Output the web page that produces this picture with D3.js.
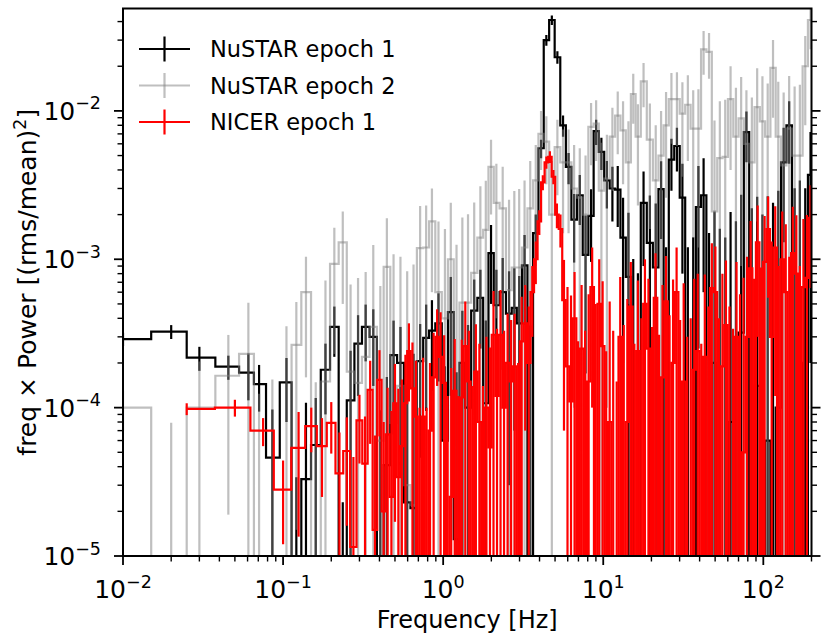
<!DOCTYPE html>
<html>
<head>
<meta charset="utf-8">
<script src="https://cdn.jsdelivr.net/npm/d3@7/dist/d3.min.js"></script>
<style>
  body { margin: 0; background: #fff; }
  text { font-family: "DejaVu Sans", sans-serif; }
</style>
</head>
<body>
<div id="chart"></div>
<script>
// freq x Power spectra (log-log), drawn as steps-mid lines with vertical error bars

// frequency bins shared by both NuSTAR epochs [Hz]
const nustarFreq = [
  0.01, 0.02, 0.03, 0.0455, 0.0607, 0.0708, 0.0857, 0.105, 0.121, 0.139,
  0.160, 0.184, 0.209, 0.236, 0.264, 0.294, 0.328, 0.366, 0.405, 0.445,
  0.490, 0.541, 0.596, 0.653, 0.718, 0.783, 0.851, 0.935, 1.026, 1.116,
  1.212, 1.318, 1.430, 1.563, 1.708, 1.847, 1.991, 2.150, 2.355, 2.580,
  2.783, 2.985, 3.225, 3.499, 3.789, 4.088, 4.411, 4.775, 5.171, 5.610,
  6.074, 6.577, 7.137, 7.754, 8.395, 9.028, 9.739, 10.54, 11.41, 12.32,
  13.30, 14.37, 15.40, 16.47, 17.86, 19.56, 21.28, 22.98, 24.69, 26.67,
  28.87, 31.23, 33.78, 36.48, 39.32, 42.36, 45.81, 49.55, 53.52, 57.81,
  62.44, 67.45, 72.70, 78.43, 84.82, 91.53, 98.74, 106.5, 115.0, 124.0,
  134.0, 145.0, 156.9, 169.2, 182.8, 197.2
];

// NuSTAR epoch 1
const nustar1Power = [
  2.9e-4, 3.25e-4, 2.17e-4, 1.89e-4, 1.72e-4, 1.44e-4, 4.6e-5, 1.48e-4, 4e-6, 3.3e-5,
  5.6e-5, 1.8e-4, 3.5e-4, 3e-6, 1.12e-4, 2.7e-4, 3.5e-4, 3.0e-4, 6e-6, 4.1e-5,
  2.26e-4, 2.0e-4, 2.3e-5, 2.1e-5, 2.06e-4, 2.95e-4, 3.3e-4, 3.7e-4, 6e-5, 4.4e-4,
  1.3e-5, 2.0e-4, 1.0e-4, 4.5e-4, 5.5e-4, 1.07e-4, 1.1e-3, 4.9e-4, 6.0e-4, 4.3e-4,
  4.7e-4, 3.7e-4, 9.1e-4, 8e-6, 1.5e-3, 5.6e-3, 3.0e-2, 4.1e-2, 2.3e-2, 8.0e-3,
  4.2e-3, 1.85e-3, 2.7e-3, 1.07e-3, 1.96e-3, 7.3e-3, 5.3e-3, 3.4e-3, 3.0e-3, 2.95e-3,
  1.4e-3, 7.6e-4, 5e-6, 4e-6, 2.4e-3, 1.29e-3, 8.8e-4, 2.97e-3, 5e-6, 4.7e-3,
  5.8e-3, 2.6e-3, 5e-6, 6e-6, 2.25e-3, 2.7e-3, 4e-6, 2.0e-4, 5e-6, 3e-6,
  8e-5, 5e-6, 3.2e-4, 7.2e-3, 5e-6, 1.4e-4, 4e-6, 6e-5, 5e-6, 1.0e-4,
  4.5e-3, 8.0e-3, 5e-6, 2.0e-4, 5e-6, 3.7e-3
];
const nustar1Err = [
  3e-5, 3.5e-5, 4e-5, 3.5e-5, 6e-5, 5e-5, 5.1e-5, 6.8e-5, 3e-5, 7.5e-5,
  6e-5, 9e-5, 1.3e-4, 2e-5, 1.3e-4, 1.5e-4, 1.45e-4, 1.6e-4, 9e-5, 1.2e-4,
  1.6e-4, 1.5e-4, 1.2e-4, 2.1e-4, 1.6e-4, 2.0e-4, 2.0e-4, 2.2e-4, 1.3e-4, 3.2e-4,
  1.6e-4, 2.5e-4, 2.6e-4, 2.8e-4, 3.0e-4, 2.8e-4, 6.0e-4, 3.6e-4, 4.2e-4, 4.0e-4,
  4.0e-4, 4.0e-4, 5.5e-4, 3.5e-4, 5e-4, 8e-4, 2.5e-3, 3e-3, 2.2e-3, 1.3e-3,
  1.0e-3, 9e-4, 1.0e-3, 9e-4, 1.0e-3, 1.4e-3, 1.3e-3, 1.2e-3, 1.2e-3, 1.3e-3,
  1.2e-3, 1.3e-3, 1.0e-3, 8e-4, 1.5e-3, 1.4e-3, 1.5e-3, 1.6e-3, 1.2e-3, 1.8e-3,
  1.9e-3, 1.8e-3, 1.2e-3, 1.4e-3, 2.0e-3, 2.1e-3, 1.5e-3, 1.9e-3, 1.6e-3, 1.4e-3,
  2.0e-3, 1.8e-3, 2.4e-3, 2.7e-3, 2.2e-3, 2.5e-3, 2.0e-3, 2.6e-3, 2.4e-3, 2.8e-3,
  3.2e-3, 3.6e-3, 3.0e-3, 3.2e-3, 3.0e-3, 3.5e-3
];

// NuSTAR epoch 2
const nustar2Power = [
  1.0e-4, 3e-6, 1.0e-4, 1.64e-4, 2.3e-4, 4e-6, 5e-6, 4e-6, 2.65e-4, 6.0e-4,
  8e-6, 1.5e-4, 9.3e-4, 1.3e-3, 1.75e-4, 1.47e-4, 2.2e-4, 3.5e-4, 6e-5, 8.9e-4,
  7.9e-5, 1.4e-4, 3e-5, 2.2e-5, 1.19e-3, 1.2e-3, 1.8e-3, 6e-4, 4e-4, 1.0e-3,
  5.4e-5, 5.1e-4, 5.1e-4, 8.1e-4, 1.4e-3, 1.58e-3, 4.2e-3, 2.4e-3, 2.2e-3, 6.2e-4,
  8.8e-4, 8.8e-4, 1.2e-3, 2.2e-3, 3.4e-3, 7.0e-3, 6.2e-3, 2.0e-3, 5.7e-3, 4.5e-3,
  4.5e-3, 3.0e-3, 2.6e-3, 2.0e-3, 7.8e-3, 8.2e-3, 2.9e-3, 3.5e-3, 6.7e-3, 9.3e-3,
  7.4e-3, 4.5e-3, 1.3e-2, 6.7e-3, 1.58e-2, 6.4e-3, 3.4e-3, 5.0e-3, 8.0e-3, 1.2e-2,
  1.2e-2, 9.6e-3, 1.1e-2, 7.6e-3, 7.6e-3, 2.6e-2, 2.5e-2, 2.1e-3, 4.8e-3, 4.9e-3,
  1.2e-2, 6.7e-3, 8.9e-3, 6.0e-3, 4.5e-3, 1.06e-2, 8.5e-3, 6.7e-3, 1.95e-2, 6.7e-3,
  4.3e-3, 7.6e-3, 5.0e-3, 5.0e-3, 2.0e-2, 4.1e-2
];
const nustar2Err = [
  3e-5, 7.6e-5, 1.05e-4, 1.45e-4, 2.8e-4, 1.2e-4, 1.5e-4, 3.5e-4, 2.5e-4, 4.4e-4,
  1.4e-4, 5.7e-4, 7e-4, 8e-4, 5e-4, 6e-4, 6e-4, 9e-4, 6e-4, 1.0e-3,
  1.0e-3, 9e-4, 8e-4, 9e-4, 1.1e-3, 1.1e-3, 1.2e-3, 1.2e-3, 1.2e-3, 1.4e-3,
  1.2e-3, 1.4e-3, 1.5e-3, 1.6e-3, 1.7e-3, 1.8e-3, 2.2e-3, 2.0e-3, 2.0e-3, 1.9e-3,
  2.0e-3, 2.1e-3, 2.2e-3, 2.4e-3, 2.5e-3, 3.0e-3, 3.0e-3, 2.6e-3, 3.0e-3, 3.0e-3,
  3.0e-3, 2.9e-3, 3.0e-3, 3.0e-3, 3.5e-3, 3.6e-3, 3.2e-3, 3.4e-3, 3.8e-3, 4.2e-3,
  4.2e-3, 4.0e-3, 4.8e-3, 4.4e-3, 5.2e-3, 4.8e-3, 4.6e-3, 5.0e-3, 5.4e-3, 6.0e-3,
  6.2e-3, 6.0e-3, 6.4e-3, 6.2e-3, 6.4e-3, 8.5e-3, 8.5e-3, 6.5e-3, 6.8e-3, 7.0e-3,
  8.0e-3, 7.6e-3, 8.0e-3, 7.8e-3, 7.8e-3, 8.8e-3, 8.6e-3, 8.6e-3, 1.05e-2, 9.0e-3,
  9.0e-3, 9.6e-3, 9.6e-3, 1.0e-2, 1.2e-2, 1.5e-2
];

// NICER epoch 1 (negative values fall below the log axis)
const nicerFreq = [
  0.025, 0.05, 0.075, 0.1, 0.125, 0.15, 0.175, 0.2, 0.225, 0.25,
  0.275, 0.3, 0.325, 0.35, 0.375, 0.4, 0.425, 0.45, 0.475, 0.5,
  0.525, 0.552, 0.581, 0.611, 0.643, 0.676, 0.712, 0.749, 0.788, 0.828,
  0.872, 0.917, 0.964, 1.014, 1.067, 1.123, 1.181, 1.242, 1.307, 1.375,
  1.447, 1.522, 1.601, 1.684, 1.772, 1.864, 1.961, 2.063, 2.170, 2.283,
  2.401, 2.526, 2.658, 2.796, 2.941, 3.094, 3.255, 3.424, 3.603, 3.790,
  3.987, 4.194, 4.412, 4.642, 4.883, 5.137, 5.404, 5.685, 5.981, 6.292,
  6.619, 6.963, 7.325, 7.706, 8.107, 8.529, 8.972, 9.439, 9.913, 10.43,
  10.97, 11.54, 12.14, 12.77, 13.44, 14.14, 14.87, 15.65, 16.46, 17.31,
  18.22, 19.16, 20.16, 21.21, 22.31, 23.46, 24.68, 25.96, 27.31, 28.73,
  30.23, 31.80, 33.45, 35.19, 37.02, 38.95, 40.97, 43.10, 45.34, 47.70,
  50.18, 52.78, 55.53, 58.41, 61.45, 64.65, 68.01, 71.55, 75.27, 79.18,
  83.30, 87.63, 92.19, 96.87, 101.9, 107.2, 112.8, 118.7, 124.8, 131.3,
  138.1, 145.3, 152.9, 160.8, 169.2, 178.0, 187.2, 197.0
];
const nicerPower = [
  9.8e-5, 1.0e-4, 7.0e-5, 2.8e-5, 5.35e-5, 7.5e-5, 5.5e-5, 7.9e-5, 3.6e-5, 5.1e-5,
  1.15e-5, 8.2e-5, 4.2e-5, 1.32e-4, 1.5e-5, 1.54e-4, 2.0e-5, 6.6e-5, 2.5e-5, 1.07e-4,
  3.4e-5, 5.5e-5, 1.07e-4, 2.4e-4, 1.35e-4, 8.7e-5, -2.0e-5, 8.7e-5, -3.0e-5, 7.0e-5,
  1.6e-4, 3.0e-4, 2.2e-4, 1.47e-4, -4.0e-5, 2.5e-5, 1.3e-4, -5.0e-5, 1.17e-4, 2.6e-4,
  1.5e-4, -4.0e-5, 1.75e-4, 8.0e-5, -6.0e-5, 1.0e-4, 5.4e-5, 3.1e-4, 1.2e-4, 3.1e-4,
  1.0e-4, 2.0e-4, 1.5e-4, 1.9e-4, -5.0e-5, 2.8e-4, 3.7e-4, 2.0e-4, 6.0e-4, 1.0e-3,
  1.8e-3, 3.3e-3, 4.5e-3, 4.9e-3, 3.6e-3, 2.0e-3, 1.6e-3, 5.3e-4, 1.9e-4, 1.1e-4,
  4.0e-4, -1.5e-4, 2.5e-4, -1.0e-4, 1.5e-4, 6.5e-4, -5.0e-5, 5.0e-4, 2.6e-4, -2.0e-4,
  8.0e-5, -1.2e-4, -3.0e-4, 3.0e-4, -1.0e-4, 8.0e-5, 4.8e-4, -2.0e-4, 2.4e-4, -8.0e-5,
  5.0e-4, 2.5e-4, -1.5e-4, 5.5e-4, -2.0e-4, 1.6e-4, 5.2e-4, -1.0e-4, 2.0e-4, 6.0e-4,
  -1.5e-4, 1.5e-4, -2.5e-4, -1.5e-4, 1.8e-4, 2.4e-4, -3.0e-4, 2.2e-4, -1.0e-4, 6.4e-4,
  6.0e-4, -2.0e-4, 1.9e-4, 3.6e-4, -1.5e-4, -3.0e-4, 3.0e-4, -1.0e-4, 5.0e-5, 3.0e-4,
  8.7e-4, -2.0e-4, 1.3e-3, -1.0e-4, 9.6e-4, 1.6e-3, 3.0e-4, 1.2e-3, -2.0e-4, 1.0e-3,
  6.0e-4, -1.0e-4, 1.1e-3, 8.0e-4, -3.0e-4, 6.5e-4, 7.5e-4, 1.9e-3
];
const nicerErr = [
  9e-6, 1.3e-5, 1.5e-5, 1.6e-5, 4e-5, 2.5e-5, 3e-5, 3e-5, 3.2e-5, 3.5e-5,
  3.5e-5, 4e-5, 4.5e-5, 7.5e-5, 5e-5, 9e-5, 6e-5, 7e-5, 7e-5, 9e-5,
  1.0e-4, 1.0e-4, 1.2e-4, 1.3e-4, 1.4e-4, 1.2e-4, 1.2e-4, 1.3e-4, 1.3e-4, 1.3e-4,
  1.6e-4, 1.6e-4, 2.2e-4, 1.6e-4, 1.6e-4, 1.6e-4, 1.6e-4, 1.7e-4, 1.7e-4, 2.6e-4,
  1.8e-4, 1.8e-4, 1.9e-4, 1.9e-4, 2.0e-4, 2.0e-4, 2.0e-4, 3.0e-4, 2.2e-4, 3.1e-4,
  2.3e-4, 2.3e-4, 2.4e-4, 2.4e-4, 2.5e-4, 2.8e-4, 3.0e-4, 2.8e-4, 3.0e-4, 3.2e-4,
  3.4e-4, 3.8e-4, 4.2e-4, 4.4e-4, 4.0e-4, 3.8e-4, 4.0e-4, 4.6e-4, 4.6e-4, 4.6e-4,
  4.2e-4, 4.3e-4, 4.2e-4, 4.3e-4, 4.3e-4, 5.5e-4, 5.5e-4, 5.0e-4, 4.5e-4, 4.4e-4,
  4.4e-4, 4.5e-4, 4.5e-4, 4.6e-4, 4.6e-4, 4.6e-4, 4.8e-4, 4.7e-4, 4.8e-4, 4.8e-4,
  5.0e-4, 4.9e-4, 5.0e-4, 5.5e-4, 5.1e-4, 5.1e-4, 5.3e-4, 5.2e-4, 5.3e-4, 6.0e-4,
  5.4e-4, 5.4e-4, 5.5e-4, 5.5e-4, 5.6e-4, 5.6e-4, 5.7e-4, 5.7e-4, 5.8e-4, 6.4e-4,
  6.2e-4, 6.0e-4, 6.1e-4, 6.2e-4, 6.3e-4, 6.4e-4, 6.6e-4, 6.8e-4, 7.0e-4, 7.4e-4,
  9.4e-4, 9.4e-4, 1.0e-3, 9.8e-4, 1.0e-3, 1.05e-3, 1.02e-3, 1.08e-3, 1.1e-3, 1.1e-3,
  1.12e-3, 1.14e-3, 1.16e-3, 1.18e-3, 1.2e-3, 1.22e-3, 1.24e-3, 1.26e-3
];

const seriesNames = ['NuSTAR epoch 1', 'NuSTAR epoch 2', 'NICER epoch 1'];
const xMajorTicks = [1e-2, 1e-1, 1, 10, 100];
const xTickExps = ['\u22122', '\u22121', '0', '1', '2'];
const yMajorTicks = [1e-5, 1e-4, 1e-3, 1e-2];
const yTickExps = ['\u22125', '\u22124', '\u22123', '\u22122'];

const width = 831;
const height = 641;
const plot = { left: 123, right: 811.5, top: 8.5, bottom: 556 };
const tickFont = 25;
const labelFont = 25;
const legendFont = 22.5;
const lw = 2.2;

const x = d3.scaleLog().domain([0.01, 200]).range([plot.left, plot.right]);
const y = d3.scaleLog().domain([1e-5, 0.049]).range([plot.bottom, plot.top]);

const svg = d3.select('#chart')
  .append('svg')
  .attr('width', width)
  .attr('height', height)
  .style('display', 'block');

svg.append('rect').attr('width', width).attr('height', height).attr('fill', '#fff');

svg.append('defs').append('clipPath')
  .attr('id', 'plot-clip')
  .append('rect')
  .attr('x', plot.left)
  .attr('y', plot.top)
  .attr('width', plot.right - plot.left)
  .attr('height', plot.bottom - plot.top);

const series = [
  { name: seriesNames[0], freq: nustarFreq, power: nustar1Power, err: nustar1Err, color: '#000000', alpha: 1 },
  { name: seriesNames[1], freq: nustarFreq, power: nustar2Power, err: nustar2Err, color: '#808080', alpha: 0.5 },
  { name: seriesNames[2], freq: nicerFreq, power: nicerPower, err: nicerErr, color: '#ff0000', alpha: 1 }
];

// values at or below zero go off the bottom of the log axis
const FLOOR = 1e-9;
const py = v => y(Math.max(v, FLOOR));

// matplotlib-style steps-mid: jumps halfway between bins (in data units)
function stepPath(freq, power) {
  let d = `M${x(freq[0])},${py(power[0])}`;
  for (let i = 1; i < freq.length; i++) {
    const mid = x((freq[i - 1] + freq[i]) / 2);
    d += `H${mid}V${py(power[i])}`;
  }
  d += `H${x(freq[freq.length - 1])}`;
  return d;
}

const dataLayer = svg.append('g').attr('clip-path', 'url(#plot-clip)');

series.forEach(s => {
  const g = dataLayer.append('g');
  g.selectAll('line')
    .data(d3.range(s.freq.length))
    .join('line')
    .attr('x1', i => x(s.freq[i]))
    .attr('x2', i => x(s.freq[i]))
    .attr('y1', i => py(s.power[i] - s.err[i]))
    .attr('y2', i => py(s.power[i] + s.err[i]))
    .attr('stroke', s.color)
    .attr('stroke-opacity', s.alpha)
    .attr('stroke-width', lw);
  g.append('path')
    .attr('d', stepPath(s.freq, s.power))
    .attr('fill', 'none')
    .attr('stroke', s.color)
    .attr('stroke-opacity', s.alpha)
    .attr('stroke-width', lw)
    .attr('stroke-linejoin', 'miter');
});

// minor tick positions: 2..9 times each decade inside the domain
function minorTicks(domain) {
  const out = [];
  const lo = Math.floor(Math.log10(domain[0]));
  const hi = Math.ceil(Math.log10(domain[1]));
  for (let e = lo; e <= hi; e++) {
    for (let m = 2; m <= 9; m++) {
      const v = m * Math.pow(10, e);
      if (v >= domain[0] * 0.999 && v <= domain[1] * 1.001) out.push(v);
    }
  }
  return out;
}

const axes = svg.append('g');

function drawTicks(values, len, w, orient) {
  values.forEach(v => {
    const l = axes.append('line').attr('stroke', '#000').attr('stroke-width', w);
    if (orient === 'bottom') {
      l.attr('x1', x(v)).attr('x2', x(v)).attr('y1', plot.bottom).attr('y2', plot.bottom + len);
    } else if (orient === 'left') {
      l.attr('x1', plot.left).attr('x2', plot.left - len).attr('y1', y(v)).attr('y2', y(v));
    } else {
      l.attr('x1', plot.right).attr('x2', plot.right + len).attr('y1', y(v)).attr('y2', y(v));
    }
  });
}

drawTicks(xMajorTicks, 9, 1.8, 'bottom');
drawTicks(minorTicks(x.domain()), 5.5, 1.4, 'bottom');
['left', 'right'].forEach(side => {
  drawTicks(yMajorTicks, 9, 1.8, side);
  drawTicks(minorTicks(y.domain()), 5.5, 1.4, side);
});

// spines
axes.append('rect')
  .attr('x', plot.left)
  .attr('y', plot.top)
  .attr('width', plot.right - plot.left)
  .attr('height', plot.bottom - plot.top)
  .attr('fill', 'none')
  .attr('stroke', '#000')
  .attr('stroke-width', 2);

function powerLabel(sel, exp) {
  sel.append('tspan').text('10');
  sel.append('tspan')
    .attr('dy', -tickFont * 0.42)
    .attr('font-size', tickFont * 0.7)
    .text(exp);
}

xMajorTicks.forEach((v, i) => {
  const t = axes.append('text')
    .attr('x', x(v))
    .attr('y', 598)
    .attr('text-anchor', 'middle')
    .attr('font-size', tickFont)
    .attr('fill', '#000');
  powerLabel(t, xTickExps[i]);
});

yMajorTicks.forEach((v, i) => {
  const t = axes.append('text')
    .attr('x', 101)
    .attr('y', y(v) + 9)
    .attr('text-anchor', 'end')
    .attr('font-size', tickFont)
    .attr('fill', '#000');
  powerLabel(t, yTickExps[i]);
});

// axis titles
axes.append('text')
  .attr('x', (plot.left + plot.right) / 2)
  .attr('y', 628)
  .attr('text-anchor', 'middle')
  .attr('font-size', 24)
  .attr('fill', '#000')
  .text('Frequency [Hz]');

const yTitle = axes.append('text')
  .attr('transform', `translate(36,${(plot.top + plot.bottom) / 2}) rotate(-90)`)
  .attr('text-anchor', 'middle')
  .attr('font-size', labelFont)
  .attr('fill', '#000');
yTitle.append('tspan').text('freq \u00d7 Power [(rms/mean)');
yTitle.append('tspan').attr('dy', -labelFont * 0.42).attr('font-size', labelFont * 0.7).text('2');
yTitle.append('tspan').attr('dy', labelFont * 0.42).text(']');

// legend
const legend = svg.append('g');
series.forEach((s, i) => {
  const ly = 49 + i * 36.5;
  legend.append('line')
    .attr('x1', 139).attr('x2', 190)
    .attr('y1', ly).attr('y2', ly)
    .attr('stroke', s.color).attr('stroke-opacity', s.alpha).attr('stroke-width', lw);
  legend.append('line')
    .attr('x1', 164.5).attr('x2', 164.5)
    .attr('y1', ly - 12.5).attr('y2', ly + 12.5)
    .attr('stroke', s.color).attr('stroke-opacity', s.alpha).attr('stroke-width', lw);
  legend.append('text')
    .attr('x', 210)
    .attr('y', ly + 8.2)
    .attr('font-size', legendFont)
    .attr('fill', '#000')
    .text(s.name);
});
</script>
</body>
</html>
